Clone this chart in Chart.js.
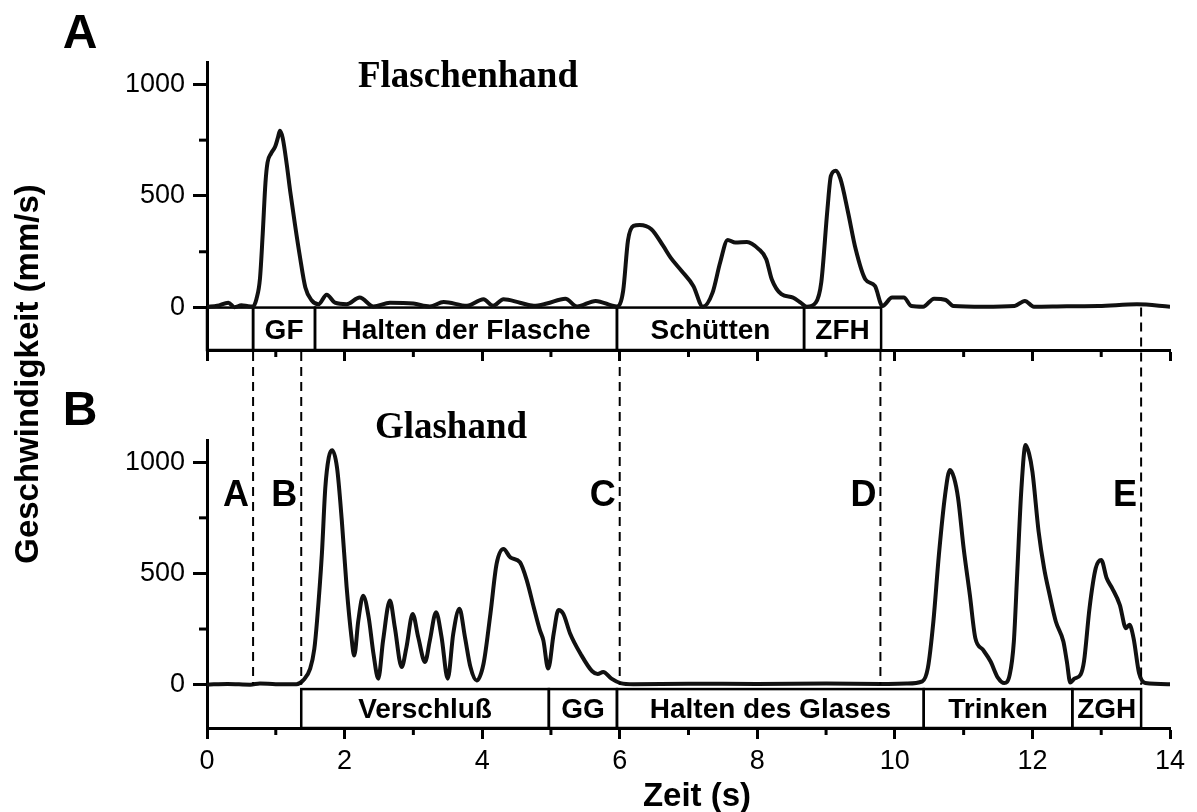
<!DOCTYPE html>
<html><head><meta charset="utf-8">
<script src="https://cdn.jsdelivr.net/npm/chart.js@4.4.1/dist/chart.umd.min.js"></script>
<style>
html,body{margin:0;padding:0;background:#fff;}
#wrap{position:relative;width:1197px;height:812px;background:#fff;}
canvas{position:absolute;left:0;top:0;}
</style></head><body>
<div id="wrap"><canvas id="cA" width="1197" height="812"></canvas><canvas id="cB" width="1197" height="812"></canvas></div>
<script>
// ---- data ----
const timeA = [
0, 0.15, 0.31, 0.4, 0.5, 0.6, 0.67, 0.72, 0.77, 0.81,
0.85, 0.88, 0.93, 0.99, 1.03, 1.06, 1.1, 1.16, 1.21, 1.28,
1.35, 1.43, 1.52, 1.62, 1.74, 1.86, 2.03, 2.22, 2.42, 2.66,
3.0, 3.24, 3.44, 3.78, 4.02, 4.16, 4.31, 4.55, 4.75, 4.94,
5.21, 5.38, 5.65, 5.96, 6.05, 6.12, 6.2, 6.29, 6.46, 6.63,
6.74, 6.9, 7.07, 7.21, 7.35, 7.46, 7.57, 7.68, 7.85, 8.02,
8.13, 8.21, 8.35, 8.52, 8.63, 8.72, 8.85, 8.93, 9.02, 9.07,
9.14, 9.21, 9.32, 9.43, 9.57, 9.71, 9.82, 9.96, 10.13, 10.24,
10.41, 10.57, 10.74, 10.85, 11.29, 11.74, 11.89, 12.02, 12.5, 12.96,
13.52, 14];
const speedA = [
3, 8, 22, 2, 10, 6, 5, 40, 130, 330,
560, 650, 690, 720, 760, 792, 760, 640, 520, 370,
230, 90, 33, 15, 58, 22, 15, 45, 5, 22,
18, 5, 25, 8, 37, 8, 37, 22, 8, 18,
40, 5, 30, 5, 75, 300, 366, 370, 351, 277,
224, 164, 97, 4, 67, 202, 303, 291, 294, 262,
217, 127, 60, 45, 22, 4, 22, 112, 441, 590,
613, 575, 426, 262, 127, 97, 7, 45, 45, 7,
4, 40, 34, 7, 4, 7, 30, 4, 6, 7,
15, 4];
const timeB = [
0, 0.3, 0.63, 0.77, 1.0, 1.3, 1.4, 1.5, 1.56, 1.6,
1.67, 1.72, 1.77, 1.82, 1.89, 1.96, 2.03, 2.1, 2.14, 2.2,
2.27, 2.35, 2.42, 2.49, 2.56, 2.66, 2.73, 2.83, 2.9, 2.99,
3.07, 3.17, 3.24, 3.33, 3.41, 3.5, 3.58, 3.67, 3.75, 3.83,
3.92, 4.02, 4.12, 4.21, 4.31, 4.41, 4.55, 4.65, 4.75, 4.84,
4.89, 4.96, 5.04, 5.11, 5.18, 5.28, 5.43, 5.6, 5.68, 5.76,
5.88, 6.01, 6.2, 7.0, 8.0, 9.0, 9.8, 10.17, 10.4, 10.48,
10.56, 10.64, 10.73, 10.8, 10.86, 10.92, 11.0, 11.09, 11.17, 11.28,
11.39, 11.5, 11.59, 11.67, 11.73, 11.78, 11.84, 11.9, 11.95, 12.0,
12.09, 12.17, 12.25, 12.34, 12.45, 12.5, 12.55, 12.61, 12.7, 12.75,
12.83, 12.92, 13.0, 13.08, 13.16, 13.27, 13.36, 13.41, 13.47, 13.55,
13.64, 14];
const speedB = [
0, 3, 0, 5, 2, 2, 20, 72, 160, 288,
587, 886, 1021, 1054, 976, 737, 438, 214, 131, 288,
400, 303, 139, 27, 199, 378, 259, 79, 169, 318,
214, 102, 199, 326, 214, 27, 229, 341, 214, 79,
19, 94, 318, 543, 610, 572, 550, 468, 348, 244,
199, 72, 229, 336, 318, 229, 139, 60, 48, 57,
27, 7, 2, 4, 3, 5, 3, 5, 15, 75,
284, 583, 852, 965, 930, 837, 613, 404, 209, 157,
105, 30, 7, 45, 194, 508, 882, 1078, 1040, 957,
688, 523, 404, 284, 194, 105, 10, 27, 45, 105,
344, 523, 560, 478, 433, 359, 254, 269, 209, 52,
7, 2];

const xTicks = [0, 2, 4, 6, 8, 10, 12, 14];
const xMinorTicks = [1, 3, 5, 7, 9, 11, 13];
const yTicks = [0, 500, 1000];
const yMinorTicks = [250, 750];

const phasesA = ['', 'GF', 'Halten der Flasche', 'Schütten', 'ZFH'];
const phaseStartsA = [0, 0.67, 1.57, 5.96, 8.68];
const phaseEndsA = [0.67, 1.57, 5.96, 8.68, 9.8];
const phasesB = ['Verschluß', 'GG', 'Halten des Glases', 'Trinken', 'ZGH'];
const phaseStartsB = [1.37, 4.97, 5.96, 10.42, 12.58];
const phaseEndsB = [4.97, 5.96, 10.42, 12.58, 13.58];

const markerLabels = ['A', 'B', 'C', 'D', 'E'];
const markerTimes = [0.67, 1.37, 6.0, 9.79, 13.58];

// ---- drawing ----
const SANS = '"Liberation Sans", Arial, sans-serif';
const SERIF = '"Liberation Serif", "Times New Roman", serif';
const BLACK = '#000';

function pts(xs, ys) { return xs.map((x, i) => ({x: x, y: ys[i]})); }
function xp(c, v) { return c.scales.x.getPixelForValue(v); }
function yp(c, v) { return c.scales.y.getPixelForValue(v); }

function drawMinor(c) {
  const ctx = c.ctx, a = c.chartArea;
  ctx.save(); ctx.strokeStyle = BLACK; ctx.lineWidth = 3;
  xMinorTicks.forEach(v => { const x = xp(c, v); ctx.beginPath(); ctx.moveTo(x, a.bottom); ctx.lineTo(x, a.bottom + 7); ctx.stroke(); });
  yMinorTicks.forEach(v => { const y = yp(c, v); ctx.beginPath(); ctx.moveTo(a.left - 8, y); ctx.lineTo(a.left, y); ctx.stroke(); });
  ctx.restore();
}
function drawBoxes(c, names, starts, ends, topValue) {
  const ctx = c.ctx, a = c.chartArea;
  const yT = yp(c, topValue), yB = a.bottom;
  ctx.save(); ctx.strokeStyle = BLACK; ctx.lineWidth = 2.5;
  ctx.fillStyle = BLACK; ctx.font = 'bold 28px ' + SANS;
  ctx.textAlign = 'center'; ctx.textBaseline = 'middle';
  names.forEach((n, i) => {
    const x0 = xp(c, starts[i]), x1 = xp(c, ends[i]);
    ctx.strokeRect(x0, yT, x1 - x0, yB - yT);
    if (n) ctx.fillText(n, (x0 + x1) / 2, (yT + yB) / 2 + 2);
  });
  ctx.restore();
}
function text(ctx, s, x, y, font, align, base) {
  ctx.font = font; ctx.textAlign = align || 'center'; ctx.textBaseline = base || 'alphabetic';
  ctx.fillText(s, x, y);
}

function axisOpts(ticksShown) {
  return {
    x: {
      type: 'linear', min: 0, max: 14,
      afterBuildTicks: s => { s.ticks = xTicks.map(v => ({value: v})); },
      afterFit: s => { s.height = ticksShown ? 50 : 30; },
      ticks: {display: ticksShown, color: BLACK, padding: 6, font: {family: SANS, size: 27}, autoSkip: false, maxRotation: 0,
              callback: v => String(v)},
      grid: {drawOnChartArea: false, drawTicks: true, tickLength: 11, tickWidth: 3, tickColor: BLACK},
      border: {display: true, color: BLACK, width: 3}
    },
    y: {
      type: 'linear',
      afterBuildTicks: s => { s.ticks = yTicks.map(v => ({value: v})); },
      afterFit: s => { s.width = 207; },
      ticks: {color: BLACK, padding: 8, font: {family: SANS, size: 27}, callback: v => String(v)},
      grid: {drawOnChartArea: false, drawTicks: true, tickLength: 14, tickWidth: 3, tickColor: BLACK},
      border: {display: true, color: BLACK, width: 3}
    }
  };
}

function lineDataset(xs, ys) {
  return {
    data: pts(xs, ys), borderColor: '#111', borderWidth: 4, pointRadius: 0,
    cubicInterpolationMode: 'monotone', fill: false
  };
}

const scalesA = axisOpts(false);
scalesA.y.min = -190; scalesA.y.max = 1100;
const chartA = new Chart(document.getElementById('cA'), {
  type: 'line',
  data: {datasets: [lineDataset(timeA, speedA)]},
  options: {
    responsive: false, animation: false, devicePixelRatio: 1,
    layout: {padding: {left: 0, right: 27, top: 62, bottom: 432}},
    plugins: {legend: {display: false}, tooltip: {enabled: false}},
    scales: scalesA
  },
  plugins: [{
    id: 'panelA',
    beforeDatasetsDraw(c) { drawBoxes(c, phasesA, phaseStartsA, phaseEndsA, 0); },
    afterDraw(c) {
      drawMinor(c);
      const ctx = c.ctx; ctx.save(); ctx.fillStyle = BLACK;
      text(ctx, 'A', 80, 48, 'bold 48px ' + SANS);
      text(ctx, 'B', 80, 425, 'bold 48px ' + SANS);
      text(ctx, 'Flaschenhand', 468, 87, 'bold 37px ' + SERIF);
      text(ctx, 'Glashand', 451, 438, 'bold 37px ' + SERIF);
      text(ctx, 'Zeit (s)', 697, 806, 'bold 33px ' + SANS);
      ctx.translate(29, 374); ctx.rotate(-Math.PI / 2);
      text(ctx, 'Geschwindigkeit (mm/s)', 0, 0, 'bold 33px ' + SANS, 'center', 'middle');
      ctx.restore();
    }
  }]
});

const scalesB = axisOpts(true);
scalesB.y.min = -195; scalesB.y.max = 1100;
const chartB = new Chart(document.getElementById('cB'), {
  type: 'line',
  data: {datasets: [lineDataset(timeB, speedB)]},
  options: {
    responsive: false, animation: false, devicePixelRatio: 1,
    layout: {padding: {left: 0, right: 27, top: 440, bottom: 34}},
    plugins: {legend: {display: false}, tooltip: {enabled: false}},
    scales: scalesB
  },
  plugins: [{
    id: 'panelB',
    beforeDatasetsDraw(c) { drawBoxes(c, phasesB, phaseStartsB, phaseEndsB, -20); },
    afterDraw(c) {
      drawMinor(c);
      const ctx = c.ctx; ctx.save();
      ctx.strokeStyle = BLACK; ctx.fillStyle = BLACK; ctx.lineWidth = 2; ctx.setLineDash([9, 6]);
      const yEnd = yp(c, 0);
      markerTimes.forEach((t, i) => {
        const x = xp(c, t);
        const yStart = (i === markerTimes.length - 1) ? yp(chartA, 0) : chartA.chartArea.bottom + 2;
        ctx.beginPath(); ctx.moveTo(x, yStart); ctx.lineTo(x, yEnd); ctx.stroke();
        text(ctx, markerLabels[i], x - 4, yp(c, 850), 'bold 36px ' + SANS, 'right', 'middle');
      });
      ctx.restore();
    }
  }]
});
</script>
</body></html>
